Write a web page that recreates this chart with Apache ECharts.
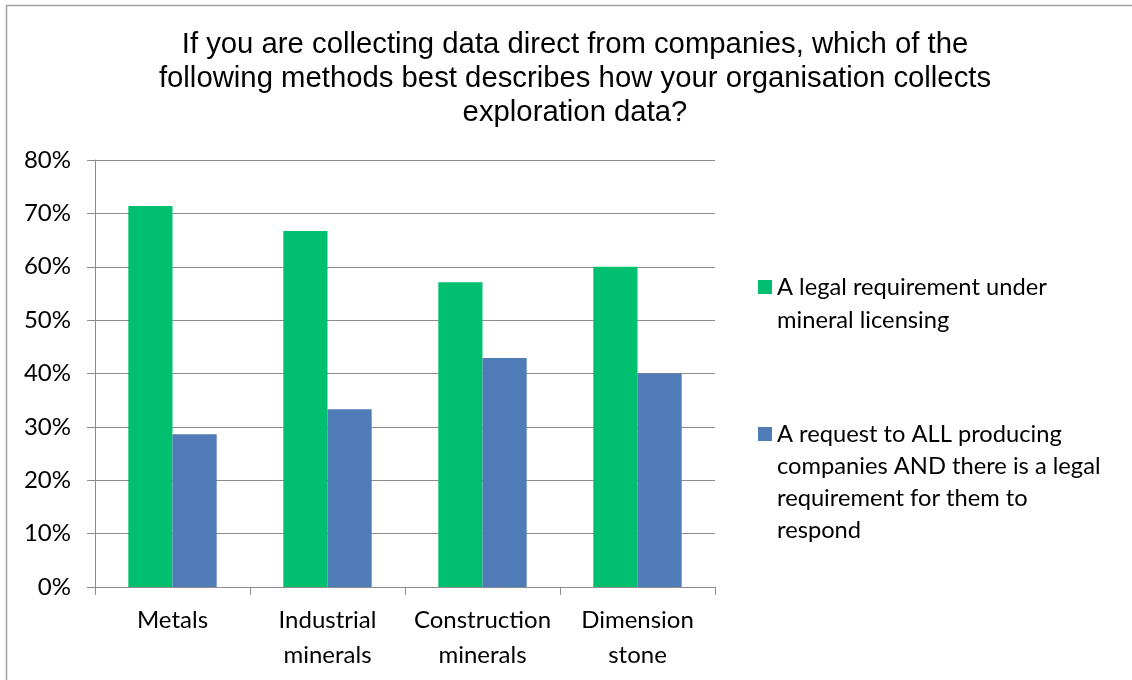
<!DOCTYPE html>
<html>
<head>
<meta charset="utf-8">
<script src="https://cdn.jsdelivr.net/npm/echarts@6/dist/echarts.min.js"></script>
<style>
  html, body { margin: 0; padding: 0; background: #fff; }
  #chart { width: 1132px; height: 680px; }
</style>
</head>
<body>
<div id="chart"></div>
<script>
// data
const categories = ['Metals', 'Industrial\nminerals', 'Construction\nminerals', 'Dimension\nstone']
const seriesNames = [
  'A legal requirement under\nmineral licensing',
  'A request to ALL producing\ncompanies AND there is a legal\nrequirement for them to\nrespond'
]
const legalValues = [0.714, 0.667, 0.571, 0.6]
const requestValues = [0.286, 0.333, 0.429, 0.4]

const colors = ['#00BF6F', '#4F7BB6']
const labelFont = 'Lato, "Open Sans", sans-serif'
const gridColor = '#8C8C8C'

const chart = echarts.init(document.getElementById('chart'))

// legend text is multi-line; blank lines in front put the marker on the first line
const legendItem = (name, color, top, lh) => {
  const lines = name.split('\n').length
  return {
    data: [{ name: name, itemStyle: { color: color } }],
    orient: 'vertical',
    left: 758,
    top: top,
    padding: 0,
    itemWidth: 14,
    itemHeight: 14,
    icon: 'rect',
    selectedMode: false,
    formatter: n => '\n'.repeat(lines - 1) + n,
    textStyle: {
      fontFamily: labelFont,
      fontSize: 23.7,
      color: '#000',
      lineHeight: lh
    }
  }
}

chart.setOption({
  animation: false,
  title: {
    text: 'If you are collecting data direct from companies, which of the\nfollowing methods best describes how your organisation collects\nexploration data?',
    left: 575,
    top: 28,
    padding: 0,
    textAlign: 'center',
    textStyle: {
      fontFamily: '"Liberation Sans", Arial, sans-serif',
      fontSize: 29.3,
      fontWeight: 'normal',
      color: '#000',
      lineHeight: 34
    }
  },
  graphic: [{
    type: 'rect',
    shape: { x: 6.5, y: 5.5, width: 1200, height: 800 },
    style: { fill: null, stroke: '#A0A0A0', lineWidth: 1.5 },
    silent: true
  }],
  legend: [
    legendItem(seriesNames[0], colors[0], 287 - 49.5, 33),
    legendItem(seriesNames[1], colors[1], 434 - 112, 32)
  ],
  grid: { left: 95, right: 417, top: 160, bottom: 93 },
  xAxis: {
    type: 'category',
    data: categories,
    axisLine: { lineStyle: { color: gridColor, width: 1 } },
    axisTick: { show: true, length: 8, lineStyle: { color: gridColor } },
    axisLabel: {
      interval: 0,
      margin: 16,
      fontFamily: labelFont,
      fontSize: 24,
      lineHeight: 35,
      color: '#000'
    }
  },
  yAxis: {
    type: 'value',
    min: 0,
    max: 0.8,
    interval: 0.1,
    axisLine: { show: true, lineStyle: { color: gridColor, width: 1 } },
    axisTick: { show: true, length: 8, lineStyle: { color: gridColor } },
    splitLine: { lineStyle: { color: gridColor, width: 1 } },
    axisLabel: {
      margin: 24,
      fontFamily: labelFont,
      fontSize: 24,
      color: '#000',
      formatter: v => Math.round(v * 100) + '%'
    }
  },
  series: [
    {
      name: seriesNames[0],
      type: 'bar',
      data: legalValues,
      itemStyle: { color: colors[0] },
      barGap: '0%',
      barCategoryGap: '43%'
    },
    {
      name: seriesNames[1],
      type: 'bar',
      data: requestValues,
      itemStyle: { color: colors[1] },
      barGap: '0%',
      barCategoryGap: '43%'
    }
  ]
})
</script>
</body>
</html>
